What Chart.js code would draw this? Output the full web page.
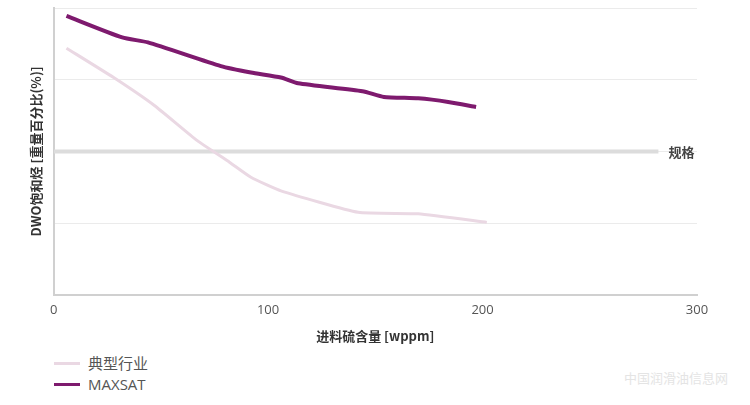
<!DOCTYPE html>
<html>
<head>
<meta charset="utf-8">
<script src="https://cdn.jsdelivr.net/npm/chart.js@4.4.0/dist/chart.umd.min.js"></script>
<style>
  body { margin: 0; background: #fff; font-family: "Open Sans", "Noto Sans CJK SC", sans-serif; }
  #wrap { position: relative; width: 750px; height: 405px; }
  #box { position: absolute; left: 0; top: 0; width: 750px; height: 348px; }
  #legend { position: absolute; left: 54px; top: 353px; font-size: 15px; color: #555; }
  #legend div { height: 21px; line-height: 21px; display: flex; align-items: center; }
  #legend span.sw { display: inline-block; width: 26px; height: 3px; margin-right: 8px; }
  #mark { position: absolute; right: 22px; top: 368px; font-size: 13px; color: #e4e4e4; font-family: "Noto Sans CJK SC"; }
</style>
</head>
<body>
<div id="wrap">
  <div id="box"><canvas id="chart"></canvas></div>
  <div id="legend"></div>
  <div id="mark">中国润滑油信息网</div>
</div>
<script>
const seriesNames = ['典型行业', 'MAXSAT'];
const seriesColors = ['#ead8e3', '#7e1a6e'];

const typicalX = [6, 28, 47, 67, 82, 92, 106, 142, 170, 202];
const typicalY = [3.44, 3.03, 2.64, 2.15, 1.85, 1.64, 1.45, 1.15, 1.13, 1.01];

const maxsatX = [6, 32, 44, 78, 92, 106, 114, 144, 154, 170, 184, 197];
const maxsatY = [3.89, 3.59, 3.52, 3.19, 3.10, 3.03, 2.95, 2.84, 2.76, 2.74, 2.69, 2.62];

const specX = [0, 282];
const specY = [2, 2];
const specLabel = '规格';

const xTicks = [0, 100, 200, 300];

function toPoints(xs, ys) {
    return xs.map((x, i) => ({ x: x, y: ys[i] }));
}

const specLabelPlugin = {
    id: 'specLabel',
    afterDatasetsDraw(chart) {
        const meta = chart.getDatasetMeta(0);
        const last = meta.data[meta.data.length - 1];
        const c = chart.ctx;
        c.save();
        c.font = 'bold 13px "Noto Sans CJK SC"';
        c.fillStyle = '#444';
        c.textBaseline = 'middle';
        c.fillText(specLabel, last.x + 10, last.y + 1);
        c.restore();
    }
};

const ctx = document.getElementById('chart').getContext('2d');
new Chart(ctx, {
    type: 'line',
    data: {
        datasets: [{
            label: specLabel,
            data: toPoints(specX, specY),
            borderColor: '#dcdcdc',
            borderWidth: 4,
            pointRadius: 0,
            order: 3
        }, {
            label: seriesNames[0],
            data: toPoints(typicalX, typicalY),
            borderColor: seriesColors[0],
            borderWidth: 3,
            pointRadius: 0,
            tension: 0.15,
            order: 2
        }, {
            label: seriesNames[1],
            data: toPoints(maxsatX, maxsatY),
            borderColor: seriesColors[1],
            borderWidth: 4,
            pointRadius: 0,
            tension: 0.2,
            order: 1
        }]
    },
    options: {
        responsive: true,
        maintainAspectRatio: false,
        animation: false,
        layout: { padding: { left: 24, right: 53, top: 8, bottom: 0 } },
        plugins: { legend: { display: false }, tooltip: { enabled: false } },
        scales: {
            x: {
                type: 'linear',
                min: 0,
                max: 300,
                afterBuildTicks: (axis) => { axis.ticks = xTicks.map(v => ({ value: v })); },
                grid: { display: false },
                border: { color: '#d0d0d0', width: 2 },
                ticks: { color: '#555', font: { size: 13, family: 'Open Sans' }, padding: 0 },
                title: {
                    display: true,
                    text: '进料硫含量 [wppm]',
                    color: '#333',
                    font: { size: 13, weight: 'bold', family: 'Noto Sans CJK SC' },
                    padding: { top: 10 }
                }
            },
            y: {
                min: 0,
                max: 4,
                ticks: { stepSize: 1, display: false },
                grid: { color: '#ebebeb', drawTicks: false },
                border: { color: '#d0d0d0', width: 2 },
                title: {
                    display: true,
                    text: 'DWO饱和烃 [重量百分比(%)]',
                    color: '#333',
                    font: { size: 13, weight: 'bold', family: 'Noto Sans CJK SC' },
                    padding: { bottom: 10 }
                }
            }
        }
    },
    plugins: [specLabelPlugin]
});

const legend = document.getElementById('legend');
seriesNames.forEach((name, i) => {
    const row = document.createElement('div');
    row.innerHTML = '<span class="sw" style="background:' + seriesColors[i] + '"></span>' + name;
    legend.appendChild(row);
});
</script>
</body>
</html>
